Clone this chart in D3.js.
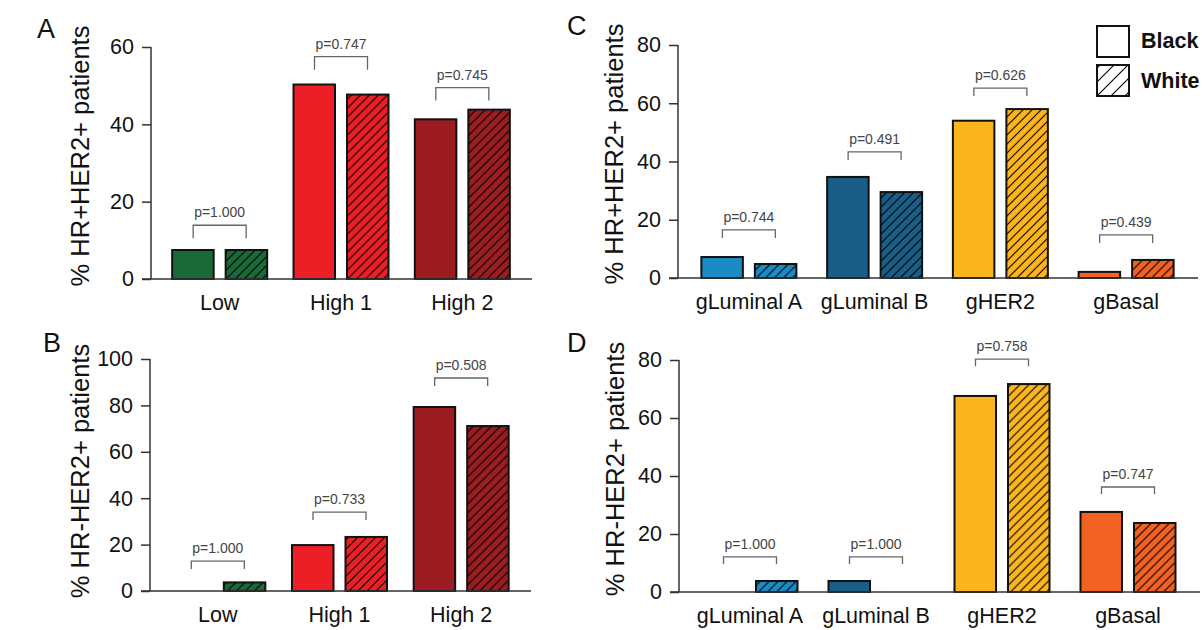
<!DOCTYPE html>
<html>
<head>
<meta charset="utf-8">
<script src="https://cdn.jsdelivr.net/npm/d3@7"></script>
<style>
  body { margin: 0; background: #fff; }
  svg { display: block; font-family: "Liberation Sans", Arial, sans-serif; }
</style>
</head>
<body>
<svg id="chart" width="1204" height="630"></svg>
<script>
// groups and colours
var groupsAB = ["Low", "High 1", "High 2"];
var groupsCD = ["gLuminal A", "gLuminal B", "gHER2", "gBasal"];
var races = ["Black", "White"];
var colorsAB = ["#1a6a39", "#ec1f27", "#9b1c21"];
var colorsCD = ["#1a8bc5", "#1a5e87", "#fcb51c", "#f26323"];

// A: HR+HER2+, by risk group
var aBlack = [7.5, 50.3, 41.3];
var aWhite = [7.5, 47.7, 43.8];
var aP = ["p=1.000", "p=0.747", "p=0.745"];
var aBracket = [13.9, 57.5, 49.5];

// B: HR-HER2+, by risk group
var bBlack = [0, 19.8, 79.3];
var bWhite = [3.7, 23.3, 71.1];
var bP = ["p=1.000", "p=0.733", "p=0.508"];
var bBracket = [12.9, 34.0, 91.8];

// C: HR+HER2+, by genomic subtype
var cBlack = [7.2, 34.7, 54.0, 2.1];
var cWhite = [4.8, 29.5, 58.0, 6.2];
var cP = ["p=0.744", "p=0.491", "p=0.626", "p=0.439"];
var cBracket = [16.5, 43.3, 65.2, 14.8];

// D: HR-HER2+, by genomic subtype
var dBlack = [0, 3.8, 67.6, 27.6];
var dWhite = [3.8, 0, 71.7, 23.8];
var dP = ["p=1.000", "p=1.000", "p=0.758", "p=0.747"];
var dBracket = [12.1, 12.1, 80.3, 36.2];

var svg = d3.select("#chart");
var defs = svg.append("defs");

function hatch(id, color, size) {
	var p = defs.append("pattern")
		.attr("id", id)
		.attr("patternUnits", "userSpaceOnUse")
		.attr("width", size).attr("height", size);
	p.append("rect").attr("width", size).attr("height", size).attr("fill", color);
	p.append("path")
		.attr("d", "M" + (-size/4) + "," + (size/4) + "l" + (size/2) + "," + (-size/2) +
			"M0," + size + "l" + size + "," + (-size) +
			"M" + (size*3/4) + "," + (size*5/4) + "l" + (size/2) + "," + (-size/2))
		.attr("stroke", "#000").attr("stroke-width", 1.1);
}
colorsAB.forEach(function(c, i){ hatch("hab" + i, c, 9); });
colorsCD.forEach(function(c, i){ hatch("hcd" + i, c, 9); });
hatch("hleg", "#fff", 14);

function drawPanel(o) {
	var g = svg.append("g");

	var y = d3.scaleLinear().domain([0, o.ymax]).range([o.y0, o.y1]);
	var x0 = d3.scaleBand().domain(o.groups).range(o.xr);
	var x1 = d3.scaleBand().domain(races).range([0, 95]).paddingInner(0.224);

	var rows = o.groups.map(function(k, i){
		return { group: k, i: i, vals: [o.black[i], o.white[i]], p: o.p[i], br: o.br[i] };
	});

	// y axis
	var yAxis = d3.axisLeft(y).tickValues(o.ticks).tickSize(9).tickPadding(8);
	var ax = g.append("g")
		.attr("transform", "translate(" + o.ax + ",0)")
		.call(yAxis);
	ax.select(".domain").attr("stroke", "#333").attr("stroke-width", 1.5).attr("d", "M0," + o.y1 + "V" + o.y0);
	ax.selectAll(".tick line").attr("stroke", "#333").attr("stroke-width", 1.5);
	ax.selectAll(".tick text").attr("font-size", 21.5).attr("fill", "#111")
		.attr("font-family", "Liberation Sans, Arial, sans-serif");

	// bars
	var grp = g.selectAll("g.grp").data(rows).enter().append("g")
		.attr("transform", function(d){ return "translate(" + (x0(d.group) + x0.bandwidth()/2 - 47.5) + ",0)"; });

	grp.selectAll("rect")
		.data(function(d){ return d.vals.map(function(v, j){ return { v: v, race: races[j], i: d.i }; }).filter(function(e){ return e.v > 0; }); })
		.enter().append("rect")
		.attr("x", function(d){ return x1(d.race); })
		.attr("width", x1.bandwidth())
		.attr("y", function(d){ return y(d.v); })
		.attr("height", function(d){ return y(0) - y(d.v); })
		.attr("fill", function(d){ return d.race === "Black" ? o.colors[d.i] : "url(#" + o.pat + d.i + ")"; })
		.attr("stroke", "#111").attr("stroke-width", 2);

	// baseline
	g.append("line")
		.attr("x1", o.ax - 9).attr("x2", o.xend)
		.attr("y1", y(0)).attr("y2", y(0))
		.attr("stroke", "#333").attr("stroke-width", 1.5);

	// x labels
	g.selectAll("text.xl").data(rows).enter().append("text")
		.attr("x", function(d){ return x0(d.group) + x0.bandwidth()/2; })
		.attr("y", y(0) + 31)
		.attr("text-anchor", "middle")
		.attr("font-size", 21.5).attr("fill", "#111")
		.text(function(d){ return d.group; });

	// p-value brackets
	var bw = 26.5;
	g.selectAll("path.br").data(rows).enter().append("path")
		.attr("d", function(d){
			var cx = x0(d.group) + x0.bandwidth()/2, yy = y(d.br);
			return "M" + (cx - bw) + "," + (yy + o.foot) + "V" + yy + "H" + (cx + bw) + "V" + (yy + o.foot);
		})
		.attr("fill", "none").attr("stroke", "#666").attr("stroke-width", 1.3);

	g.selectAll("text.pv").data(rows).enter().append("text")
		.attr("x", function(d){ return x0(d.group) + x0.bandwidth()/2; })
		.attr("y", function(d){ return y(d.br) - 8; })
		.attr("text-anchor", "middle")
		.attr("font-size", 14).attr("fill", "#444")
		.text(function(d){ return d.p; });

	// y label
	g.append("text")
		.attr("transform", "translate(" + o.ylx + "," + o.yly + ") rotate(-90)")
		.attr("text-anchor", "middle")
		.attr("font-size", 25.5).attr("fill", "#111")
		.text(o.ylabel);

	// panel letter
	g.append("text")
		.attr("x", o.lx).attr("y", o.ly)
		.attr("font-size", 27).attr("fill", "#111")
		.text(o.letter);
}

drawPanel({ letter: "A", lx: 37, ly: 38, groups: groupsAB, colors: colorsAB, pat: "hab",
	black: aBlack, white: aWhite, p: aP, br: aBracket, ymax: 60, ticks: [0, 20, 40, 60],
	y0: 279, y1: 47, ax: 151, xr: [159, 523], xend: 532, foot: 13,
	ylabel: "% HR+HER2+ patients", ylx: 89, yly: 156 });

drawPanel({ letter: "B", lx: 43, ly: 352, groups: groupsAB, colors: colorsAB, pat: "hab",
	black: bBlack, white: bWhite, p: bP, br: bBracket, ymax: 100, ticks: [0, 20, 40, 60, 80, 100],
	y0: 591, y1: 359, ax: 150, xr: [157, 522], xend: 531, foot: 8,
	ylabel: "% HR-HER2+ patients", ylx: 89, yly: 471 });

drawPanel({ letter: "C", lx: 567, ly: 35, groups: groupsCD, colors: colorsCD, pat: "hcd",
	black: cBlack, white: cWhite, p: cP, br: cBracket, ymax: 80, ticks: [0, 20, 40, 60, 80],
	y0: 278, y1: 45, ax: 678, xr: [686, 1189], xend: 1198, foot: 8,
	ylabel: "% HR+HER2+ patients", ylx: 623, yly: 154 });

drawPanel({ letter: "D", lx: 567, ly: 352, groups: groupsCD, colors: colorsCD, pat: "hcd",
	black: dBlack, white: dWhite, p: dP, br: dBracket, ymax: 80, ticks: [0, 20, 40, 60, 80],
	y0: 592, y1: 360, ax: 679, xr: [687, 1191], xend: 1200, foot: 7,
	ylabel: "% HR-HER2+ patients", ylx: 624, yly: 469 });

// legend
var leg = svg.append("g").attr("transform", "translate(1097,26)");
leg.selectAll("rect").data(races).enter().append("rect")
	.attr("x", 0).attr("y", function(d, i){ return i * 39; })
	.attr("width", 32).attr("height", 31)
	.attr("fill", function(d){ return d === "Black" ? "#fff" : "url(#hleg)"; })
	.attr("stroke", "#111").attr("stroke-width", 2);
leg.selectAll("text").data(races).enter().append("text")
	.attr("x", 44).attr("y", function(d, i){ return 22 + i * 40; })
	.attr("font-size", 21.5).attr("font-weight", "bold").attr("fill", "#111")
	.text(function(d){ return d; });
</script>
</body>
</html>
